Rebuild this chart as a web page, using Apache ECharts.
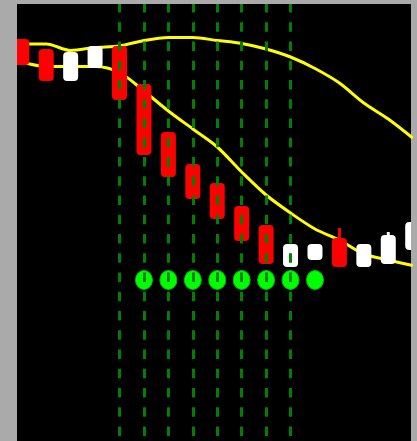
<!DOCTYPE html>
<html>
<head>
<meta charset="utf-8">
<script src="https://cdn.jsdelivr.net/npm/echarts@6.0.0/dist/echarts.min.js"></script>
<style>
    html, body { margin: 0; padding: 0; background: #aaaaaa; }
    #chart { width: 417px; height: 441px; }
</style>
</head>
<body>
<div id="chart"></div>
<script>
// bar index along the x axis
var bars = [0, 1, 2, 3, 4, 5, 6, 7, 8, 9, 10, 11, 12, 13, 14, 15, 16];
// candle values
var opens  = [402, 392, 360, 373, 395, 357, 309, 277, 258, 235, 216, 174, 181, 203, 174, 177, 191];
var closes = [376, 360, 389, 395, 341, 286, 264, 242, 222, 200, 177, 197, 197, 174, 197, 206, 219];
var lows   = [376, 360, 360, 373, 341, 286, 264, 242, 222, 200, 177, 174, 181, 174, 174, 177, 191];
var highs  = [402, 392, 389, 395, 395, 357, 309, 277, 258, 235, 216, 197, 197, 213, 197, 209, 219];
// moving averages
var maSlow = [397, 397, 390.5, 393.5, 395, 400.5, 403.5, 403.5, 400.5, 397.5, 392, 384, 372.5, 358, 338, 322, 303];
var maFast = [379, 374.5, 374.5, 374.5, 368.5, 350, 330, 312, 294, 269, 246, 228, 212, 201, 187, 181, 175.5];
// signal markers
var signalBars = [5, 6, 7, 8, 9, 10, 11, 12];
var signalLevel = 161;
// vertical dashed markers
var markBars = [4, 5, 6, 7, 8, 9, 10, 11];

var chart = echarts.init(document.getElementById('chart'));

var candleData = bars.map(function (b, i) {
    return [b, opens[i], closes[i], lows[i], highs[i]];
});

var option = {
    animation: false,
    backgroundColor: '#aaaaaa',
    grid: {
        left: 17,
        right: 6,
        top: 4,
        bottom: 0,
        show: true,
        backgroundColor: '#000000',
        borderWidth: 0
    },
    xAxis: {
        type: 'value',
        min: -0.196,
        max: 15.93,
        show: false
    },
    yAxis: {
        type: 'value',
        min: 0,
        max: 437,
        show: false
    },
    series: [
        {
            type: 'line',
            z: 1,
            data: bars.map(function (b, i) { return [b, maSlow[i]]; }),
            showSymbol: false,
            smooth: 0.3,
            lineStyle: { color: '#ffff00', width: 3 }
        },
        {
            type: 'line',
            z: 1,
            data: bars.map(function (b, i) { return [b, maFast[i]]; }),
            showSymbol: false,
            smooth: 0.3,
            lineStyle: { color: '#ffff00', width: 3 }
        },
        {
            type: 'custom',
            z: 2,
            clip: true,
            data: candleData,
            renderItem: function (params, api) {
                var x = api.value(0);
                var o = api.value(1), c = api.value(2);
                var lo = api.value(3), hi = api.value(4);
                var top = api.coord([x, Math.max(o, c)]);
                var bot = api.coord([x, Math.min(o, c)]);
                var pHi = api.coord([x, hi]);
                var pLo = api.coord([x, lo]);
                var w = 15;
                var color = c < o ? '#ff0000' : '#ffffff';
                return {
                    type: 'group',
                    children: [
                        {
                            type: 'rect',
                            shape: { x: pHi[0] - 1.5, y: pHi[1], width: 3, height: pLo[1] - pHi[1] },
                            style: { fill: color }
                        },
                        {
                            type: 'rect',
                            shape: { x: top[0] - w / 2, y: top[1], width: w, height: bot[1] - top[1], r: 4 },
                            style: { fill: color }
                        }
                    ]
                };
            }
        },
        {
            type: 'scatter',
            z: 3,
            data: signalBars.map(function (b) { return [b, signalLevel]; }),
            symbol: 'circle',
            symbolSize: [17, 19],
            itemStyle: { color: '#00ff00', borderColor: '#00c000', borderWidth: 1, opacity: 1 },
            markLine: {
                silent: true,
                symbol: ['none', 'none'],
                label: { show: false },
                lineStyle: { color: '#008000', width: 3, type: [9.5, 9.75], dashOffset: 14.25, opacity: 1 },
                data: markBars.map(function (b) { return { xAxis: b }; })
            }
        }
    ]
};

chart.setOption(option);
</script>
</body>
</html>
